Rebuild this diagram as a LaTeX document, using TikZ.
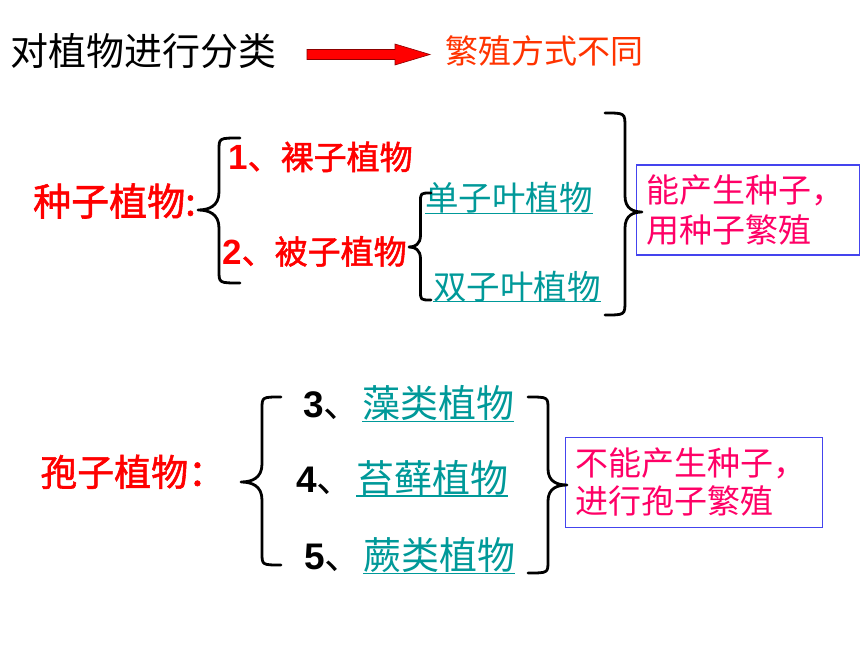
\documentclass[tikz,border=0pt]{standalone}
\usepackage{fontspec}
\newfontfamily\cjk{Noto Sans CJK SC}
\newfontfamily\cjkb[FakeBold=1.5]{Noto Sans CJK SC}
\newfontfamily\digf{Liberation Sans}
\newcommand\fs[1]{\fontsize{#1}{#1}\selectfont}
\definecolor{tred}{HTML}{FF0000}
\definecolor{torange}{HTML}{FF3300}
\definecolor{tteal}{HTML}{009999}
\definecolor{tmag}{HTML}{FF0066}
\definecolor{tblue}{HTML}{4444EE}
\newcommand\mybrc[8]{%
  \draw[bracestyle] (#1,#4) .. controls (#2,#4) .. (#2,{#4+#7}) -- (#2,{#5-#8})
    .. controls (#2,{#5-0.2*#8}) and ({#2+0.5*(#3-#2)},#5) .. (#3,#5)
    .. controls ({#2+0.5*(#3-#2)},#5) and (#2,{#5+0.2*#8}) .. (#2,{#5+#8})
    -- (#2,{#6-#7}) .. controls (#2,#6) .. (#1,#6);}
\tikzset{
  txt/.style={anchor=base west, inner sep=0pt},
  bracestyle/.style={draw=black, line width=2.8pt, line cap=round, line join=round},
  uline/.style={draw=tteal, line width=1.6pt},
  infobox/.style={draw=tblue, line width=1.2pt, inner xsep=10pt, inner ysep=0pt,
    minimum height=90pt, align=left, text=tmag},
}
\begin{document}
\begin{tikzpicture}[x=1pt,y=-1pt]
\useasboundingbox (0,0) rectangle (860,645);
% title row
\node[txt, font=\cjk\fs{38}] (title) at (10,65.5) {对植物进行分类};
\node[txt, font=\cjk\fs{33}, text=torange] (fan) at (445,63) {繁殖方式不同};
\coordinate (a0) at (307,54.5);
\coordinate (a1) at (430,54.5);
\fill[tred, draw=red!55!black, line width=0.6pt]
  ([yshift=5pt]a0) -- ++(88,0) -- ++(0,-5.5) -- (a1) -- ++(-35,10.5) -- ++(0,-5.5) -- ([yshift=-5pt]a0) -- cycle;
% seed plants
\node[txt, font=\cjkb\fs{38}, text=tred] (seed) at (33,215.5) {种子植物:};
\node[txt, font=\cjkb\fs{33}, text=tred] (gym) at (228,169.5) {{\digf\bfseries\fs{35}1}、裸子植物};
\node[txt, font=\cjkb\fs{33}, text=tred] (ang) at (222,264) {{\digf\bfseries\fs{35}2}、被子植物};
\node[txt, font=\cjk\fs{33.5}, text=tteal] (mono) at (425,210.5) {单子叶植物};
\node[txt, font=\cjk\fs{33.5}, text=tteal] (di) at (433,299) {双子叶植物};
\draw[uline] ([yshift=-3pt]mono.base west) -- ([yshift=-3pt]mono.base east);
\draw[uline] ([yshift=-2.5pt]di.base west) -- ([yshift=-2.5pt]di.base east);
\node[infobox, text width=203pt, font=\cjk\fontsize{33}{40.5}\selectfont] (box1) at (747.6,210) {能产生种子，\\用种子繁殖};
\mybrc{240}{219}{198}{138}{210}{283}{12}{18}
\mybrc{431}{420.5}{409}{193}{247}{300}{9}{12}
\mybrc{605}{625}{642}{113}{212}{315}{14}{16}
% spore plants
\node[txt, font=\cjkb\fs{37}, text=tred] (spore) at (40,486) {孢子植物：};
\node[txt, font=\cjk\fs{38}] (n3) at (303,417.3) {{\digf\bfseries\fs{37}3}、};
\node[txt, font=\cjk\fs{38}, text=tteal] (alg) at (362,417.3) {藻类植物};
\node[txt, font=\cjk\fs{38}] (n4) at (296,492.5) {{\digf\bfseries\fs{37}4}、};
\node[txt, font=\cjk\fs{38}, text=tteal] (moss) at (356,492.5) {苔藓植物};
\node[txt, font=\cjk\fs{38}] (n5) at (304,569) {{\digf\bfseries\fs{37}5}、};
\node[txt, font=\cjk\fs{38}, text=tteal] (fern) at (363,569) {蕨类植物};
\draw[uline] ([yshift=-4pt]alg.base west) -- ([yshift=-4pt]alg.base east);
\draw[uline] ([yshift=-3.5pt]moss.base west) -- ([yshift=-3.5pt]moss.base east);
\draw[uline] ([yshift=-4.5pt]fern.base west) -- ([yshift=-4.5pt]fern.base east);
\node[infobox, text width=236.6pt, font=\cjk\fontsize{33}{38.3}\selectfont] (box2) at (694,482.3) {不能产生种子，\\进行孢子繁殖};
\mybrc{281}{262}{241}{397}{482}{565}{12}{18}
\mybrc{528}{548}{567}{397}{485}{573}{12}{16}
\end{tikzpicture}
\end{document}
